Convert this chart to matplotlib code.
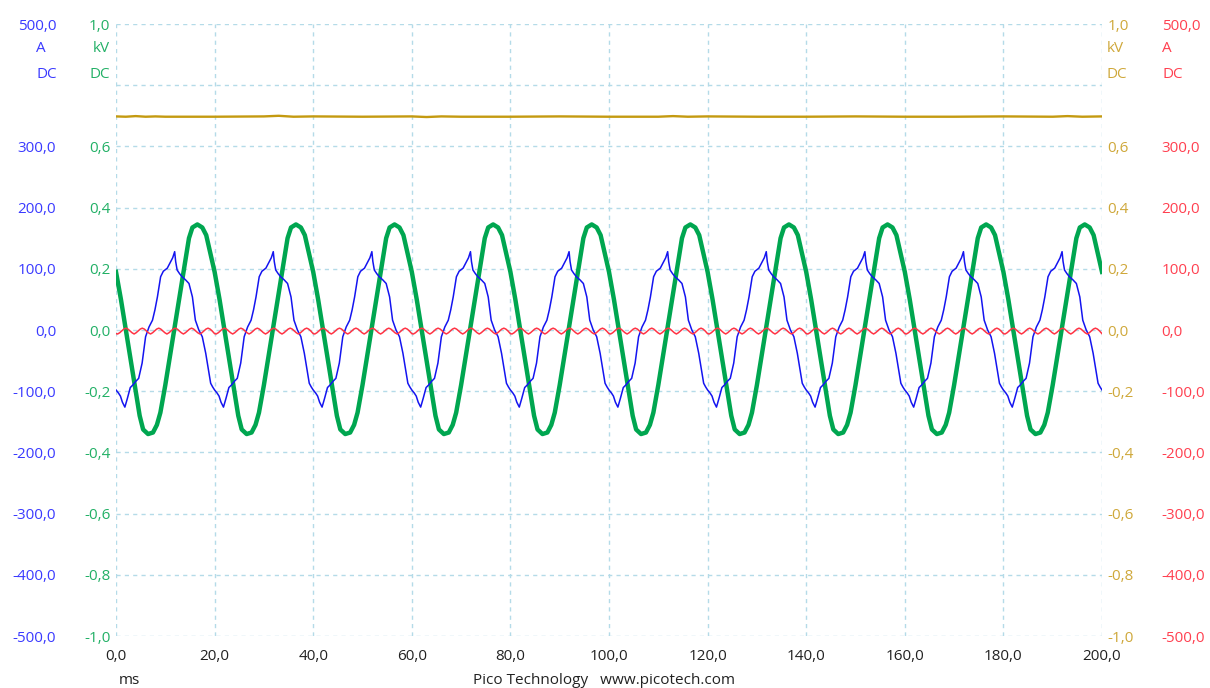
import numpy as np
import matplotlib
matplotlib.use("Agg")
import matplotlib.pyplot as plt
from matplotlib.ticker import FixedLocator, FuncFormatter

# Scope capture, 200 ms, 50 Hz. One mains cycle,
# the capture shows the same cycle 10 times over.
cycle_ms = 20.0
n_cycles = 10

# channel B - voltage (kV), green
green_t = [0, 1, 2, 3, 4, 4.8, 5.5, 6.5, 7.5, 8.3, 9, 10, 11, 12, 13, 14, 14.8, 15.5, 16.5, 17.5, 18.3, 19]
green_kv = [0.19, 0.10, 0.00, -0.10, -0.20, -0.28, -0.325, -0.34, -0.335, -0.31, -0.27, -0.18, -0.08,
            0.02, 0.12, 0.22, 0.30, 0.335, 0.345, 0.335, 0.31, 0.26]

# channel A - current (A), blue
blue_t = [0, 0.5, 0.9, 1.3, 1.8, 2.3, 2.9, 3.4, 4.0, 4.6, 5.3, 6.0, 6.7, 7.4, 7.9, 8.4, 9.05, 9.6,
          10.4, 11.1, 11.5, 11.9, 12.1, 12.4, 12.9, 13.4, 14.1, 14.8, 15.5, 16.1, 16.8, 17.5, 18.2,
          18.7, 19.2, 19.6]
blue_a = [-98, -103, -108, -118, -126, -112, -94, -90, -84, -79, -54, -11, 5, 16, 33, 54, 87, 96,
          101, 112, 118, 128, 112, 98, 92, 87, 82, 76, 54, 16, 0, -11, -38, -62, -87, -93]

# channel D - current (A), red ripple
red_t = [0, 0.33, 0.75, 1.17, 1.58, 2.0, 2.42, 2.83, 3.25, 3.67, 4.08, 4.5, 4.92, 5.33, 5.75, 6.17,
         6.58, 7.0, 7.42, 7.83, 8.25, 8.67, 9.08, 9.5, 9.92, 10.33, 10.75, 11.17, 11.58, 12.0, 12.42,
         12.83, 13.25, 13.67, 14.08, 14.5, 14.92, 15.33, 15.75, 16.17, 16.58, 17.0, 17.42, 17.83,
         18.25, 18.67, 19.08, 19.5]
red_a = [-6, -6.5, -4.5, -1.5, 1.5, 3, 1.5, -1.5, -4.5, -6.5, -4.5, -1.5, 1.5, 3, 1.5, -1.5,
         -4.5, -6.5, -4.5, -1.5, 1.5, 3, 1.5, -1.5, -4.5, -6.5, -4.5, -1.5, 1.5, 3, 1.5,
         -1.5, -4.5, -6.5, -4.5, -1.5, 1.5, 3, 1.5, -1.5, -4.5, -6.5, -4.5, -1.5,
         1.5, 3, 1.5, -1.5]

# channel C - DC voltage (kV), gold
gold_t = [0, 2, 4, 6, 8, 10, 20, 30, 33, 36, 40, 50, 60, 63, 66, 70, 80, 90, 100, 110, 113, 116, 120,
          130, 140, 150, 160, 170, 180, 190, 193, 196, 200]
gold_kv = [0.698, 0.697, 0.699, 0.697, 0.698, 0.697, 0.697, 0.698, 0.700, 0.697, 0.698, 0.697, 0.698,
           0.696, 0.698, 0.697, 0.697, 0.698, 0.697, 0.697, 0.699, 0.697, 0.698, 0.697, 0.697,
           0.698, 0.697, 0.697, 0.698, 0.697, 0.699, 0.697, 0.698]

# scale divisions
kv_ticks = [-1.0, -0.8, -0.6, -0.4, -0.2, 0.0, 0.2, 0.4, 0.6, 0.8, 1.0]
amp_ticks = [-500, -400, -300, -200, -100, 0, 100, 200, 300, 400, 500]
ms_ticks = [0, 20, 40, 60, 80, 100, 120, 140, 160, 180, 200]


def repeat_cycle(t, v):
    tt = np.concatenate([np.asarray(t) + k * cycle_ms for k in range(n_cycles)] + [[n_cycles * cycle_ms]])
    vv = np.concatenate([np.asarray(v)] * n_cycles + [[v[0]]])
    return tt, vv


def comma_fmt(hide=None):
    # the top-but-one row is where the unit captions sit, so it has no number
    def f(v, pos):
        if abs(v) < 1e-9:
            v = 0.0
        if hide is not None and abs(v - hide) < 1e-6:
            return ""
        return f"{v:.1f}".replace(".", ",")
    return FuncFormatter(f)


C_BLUE = "#1414f0"
C_BLUE_TXT = "#3a3aff"
C_GREEN = "#00a650"
C_GREEN_TXT = "#22b066"
C_GOLD = "#c49a10"
C_GOLD_TXT = "#cfa83a"
C_RED = "#ff3344"
C_RED_TXT = "#ff4050"
C_GRID = "#b4dbe8"

plt.rcParams["font.family"] = ["Open Sans", "DejaVu Sans"]
plt.rcParams["font.size"] = 11

W, H = 1210, 688
fig = plt.figure(figsize=(W / 100, H / 100), dpi=100)
left, right, top, bottom = 116, 1102, 24, 636
ax = fig.add_axes([left / W, 1 - bottom / H, (right - left) / W, (bottom - top) / H])

ax.set_xlim(0, 200)
ax.set_ylim(-1, 1)
ax.xaxis.set_major_locator(FixedLocator(ms_ticks))
ax.yaxis.set_major_locator(FixedLocator(kv_ticks))
ax.xaxis.set_major_formatter(comma_fmt())
ax.yaxis.set_major_formatter(comma_fmt(0.8))
ax.grid(True, color=C_GRID, linestyle=(0, (3, 3)), linewidth=1)
for s in ax.spines.values():
    s.set_visible(False)
ax.tick_params(axis="y", length=0, pad=4, labelcolor=C_GREEN_TXT)
ax.tick_params(axis="x", length=0, pad=9.5, labelcolor="#222222")

# kV traces
ax.plot(gold_t, gold_kv, color=C_GOLD, lw=1.7)
t, v = repeat_cycle(green_t, green_kv)
ax.plot(t, v, color=C_GREEN, lw=3.2, solid_joinstyle="round")

# gold scale on the right
sec_gold = ax.secondary_yaxis("right")
sec_gold.yaxis.set_major_locator(FixedLocator(kv_ticks))
sec_gold.yaxis.set_major_formatter(comma_fmt(0.8))
sec_gold.tick_params(axis="y", length=0, pad=4, labelcolor=C_GOLD_TXT)
sec_gold.spines["right"].set_visible(False)

# current traces on their own scale
axA = ax.twinx()
axA.set_ylim(-500, 500)
axA.yaxis.set_major_locator(FixedLocator(amp_ticks))
axA.yaxis.set_major_formatter(comma_fmt(400))
axA.tick_params(axis="y", length=0, pad=43, labelcolor=C_RED_TXT)
for s in axA.spines.values():
    s.set_visible(False)
t, v = repeat_cycle(blue_t, blue_a)
axA.plot(t, v, color=C_BLUE, lw=1.1)
t, v = repeat_cycle(red_t, red_a)
axA.plot(t, v, color=C_RED, lw=1.1)

sec_blue = axA.secondary_yaxis("left")
sec_blue.yaxis.set_major_locator(FixedLocator(amp_ticks))
sec_blue.yaxis.set_major_formatter(comma_fmt(400))
sec_blue.tick_params(axis="y", length=0, pad=43, labelcolor=C_BLUE_TXT)
sec_blue.spines["left"].set_visible(False)


# channel unit / coupling captions
def px_text(x, y, s, color, ha):
    fig.text(x / W, 1 - y / H, s, color=color, ha=ha, va="center")


px_text(41, 49, "A", C_BLUE_TXT, "center")
px_text(57, 74, "DC", C_BLUE_TXT, "right")
px_text(110, 49, "kV", C_GREEN_TXT, "right")
px_text(110, 74, "DC", C_GREEN_TXT, "right")
px_text(1107, 49, "kV", C_GOLD_TXT, "left")
px_text(1107, 74, "DC", C_GOLD_TXT, "left")
px_text(1162, 49, "A", C_RED_TXT, "left")
px_text(1162, 74, "DC", C_RED_TXT, "left")

px_text(129, 680, "ms", "#222222", "center")
px_text(604, 680, "Pico Technology   www.picotech.com", "#222222", "center")

fig.savefig("out.png", dpi=100)
